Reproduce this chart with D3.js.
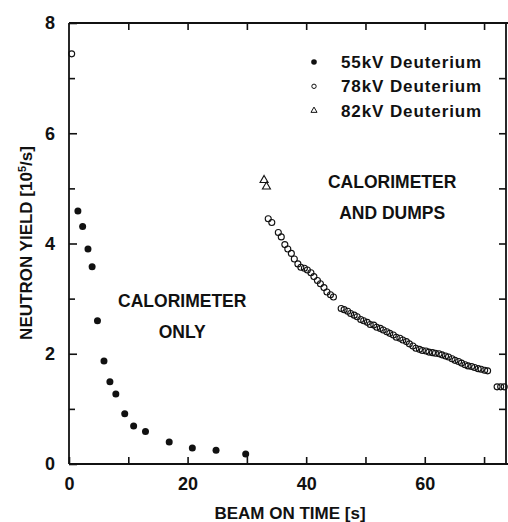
<!DOCTYPE html>
<html><head><meta charset="utf-8">
<script src="https://cdn.jsdelivr.net/npm/d3@7"></script>
<style>
body{margin:0;background:#fff;}
text{font-family:"Liberation Sans",Arial,sans-serif;font-weight:bold;fill:#111;}
</style></head>
<body><svg id="c" width="508" height="522"></svg>
<script>
// 55 kV deuterium (calorimeter only)
const d55x = [1.5, 2.3, 3.2, 3.9, 4.8, 5.9, 6.9, 7.9, 9.4, 10.9, 12.9, 16.9, 20.8, 24.8, 29.8];
const d55y = [4.59, 4.31, 3.90, 3.58, 2.60, 1.87, 1.49, 1.27, 0.91, 0.69, 0.59, 0.40, 0.29, 0.25, 0.18];
// 78 kV deuterium (calorimeter and dumps)
const d78x = [0.45, 33.6, 34.2, 35.3, 35.8, 36.4, 36.9, 37.5, 38.0, 38.6, 39.1, 39.7, 40.2, 40.8, 41.3, 41.9, 42.4, 43.0, 43.5, 44.1, 44.6,
  45.9, 46.4, 47.0, 47.5, 48.1, 48.6, 49.2, 49.7, 50.3, 50.8, 51.4, 51.9, 52.5, 53.0, 53.6, 54.1, 54.7, 55.2, 55.8, 56.3, 56.9, 57.4,
  58.0, 58.5, 59.1, 59.6, 60.2, 60.7, 61.3, 61.8, 62.4, 62.9, 63.5, 64.0, 64.6, 65.1, 65.7, 66.2, 66.8, 67.3, 67.9, 68.4, 69.0, 69.5,
  70.1, 70.6, 72.2, 72.8, 73.4];
const d78y = [7.44, 4.45, 4.38, 4.20, 4.12, 3.98, 3.90, 3.82, 3.72, 3.63, 3.57, 3.55, 3.52, 3.47, 3.40, 3.33, 3.27, 3.20, 3.12, 3.07, 3.03,
  2.82, 2.80, 2.77, 2.73, 2.70, 2.67, 2.62, 2.60, 2.57, 2.53, 2.52, 2.48, 2.46, 2.43, 2.40, 2.37, 2.34, 2.30, 2.28, 2.25, 2.22, 2.18,
  2.14, 2.10, 2.08, 2.06, 2.05, 2.03, 2.02, 2.01, 2.00, 1.98, 1.96, 1.94, 1.91, 1.88, 1.86, 1.83, 1.80, 1.78, 1.77, 1.75, 1.73, 1.72,
  1.70, 1.69, 1.40, 1.40, 1.40];
// 82 kV deuterium
const d82x = [32.9, 33.3];
const d82y = [5.15, 5.03];

const xTicks = [0, 10, 20, 30, 40, 50, 60, 70];
const xLabels = [0, 20, 40, 60];
const yTicks = [0, 1, 2, 3, 4, 5, 6, 7, 8];
const yLabels = [0, 2, 4, 6, 8];
const legendLabels = ["55kV Deuterium", "78kV Deuterium", "82kV Deuterium"];
const xTitle = "BEAM ON TIME [s]";
const notes = [["CALORIMETER", "ONLY"], ["CALORIMETER", "AND DUMPS"]];
const noteX = [19.1, 54.5];
const noteY = [2.85, 5.0];

const L = 69, R = 506, T = 23, B = 464;
const x = d3.scaleLinear().domain([0, 73.7]).range([L, R]);
const y = d3.scaleLinear().domain([0, 8]).range([B, T]);
const svg = d3.select("#c");

// frame
const frame = svg.append("g").attr("stroke", "#111").attr("stroke-width", 1.8).attr("fill", "none");
frame.append("line").attr("x1", L).attr("x2", R + 2).attr("y1", B).attr("y2", B);
frame.append("line").attr("x1", L).attr("x2", R + 2).attr("y1", T).attr("y2", T);
frame.append("line").attr("x1", L).attr("x2", L).attr("y1", T).attr("y2", B);
frame.append("line").attr("x1", R).attr("x2", R).attr("y1", T).attr("y2", B);

// axes via d3
const fmtX = d => xLabels.includes(d) ? d : "";
const fmtY = d => yLabels.includes(d) ? d : "";
const gx = svg.append("g").attr("transform", `translate(0,${B})`)
  .call(d3.axisBottom(x).tickValues(xTicks).tickSizeInner(-7).tickSizeOuter(0).tickPadding(13).tickFormat(fmtX));
const gxt = svg.append("g").attr("transform", `translate(0,${T})`)
  .call(d3.axisTop(x).tickValues(xTicks.filter(d => d > 0)).tickSizeInner(-7).tickSizeOuter(0).tickFormat(""));
const gy = svg.append("g").attr("transform", `translate(${L},0)`)
  .call(d3.axisLeft(y).tickValues(yTicks).tickSize(-8).tickSizeOuter(0).tickPadding(14).tickFormat(fmtY));
const gyr = svg.append("g").attr("transform", `translate(${R},0)`)
  .call(d3.axisRight(y).tickValues(yTicks.filter(d => d > 0 && d < 8)).tickSize(-7).tickSizeOuter(0).tickFormat(""));
[gx, gxt, gy, gyr].forEach(g => {
  g.select(".domain").remove();
  g.selectAll("line").attr("stroke", "#111").attr("stroke-width", 1.6);
  g.selectAll("text").style("font-size", "18px").style("font-family", "Liberation Sans, Arial, sans-serif").style("font-weight", "bold").attr("fill", "#111");
});
gy.selectAll(".tick").filter(d => !yLabels.includes(d)).select("line").attr("x2", 6);

// titles
svg.append("text").attr("x", 290).attr("y", 519).attr("text-anchor", "middle")
  .style("font-size", "17px").text(xTitle);
const yt = svg.append("text").attr("transform", "translate(32,243) rotate(-90)").attr("text-anchor", "middle")
  .style("font-size", "17px");
yt.append("tspan").text("NEUTRON YIELD [10");
yt.append("tspan").attr("dy", -6).style("font-size", "11px").text("5");
yt.append("tspan").attr("dy", 6).text("/s]");

// notes
notes.forEach((n, i) => {
  n.forEach((s, j) => {
    svg.append("text").attr("x", x(noteX[i])).attr("y", y(noteY[i]) + j * 31)
      .attr("text-anchor", "middle").style("font-size", "17.5px").text(s);
  });
});

// data
svg.append("g").selectAll("circle").data(d55x).join("circle")
  .attr("cx", d => x(d)).attr("cy", (d, i) => y(d55y[i])).attr("r", 3.5).attr("fill", "#111");
svg.append("g").selectAll("circle").data(d78x).join("circle")
  .attr("cx", d => x(d)).attr("cy", (d, i) => y(d78y[i])).attr("r", 3).attr("fill", "none")
  .attr("stroke", "#111").attr("stroke-width", 1.1);
const tri = d3.symbol().type(d3.symbolTriangle).size(28);
svg.append("g").selectAll("path").data(d82x).join("path")
  .attr("transform", (d, i) => `translate(${x(d)},${y(d82y[i])})`).attr("d", tri)
  .attr("fill", "none").attr("stroke", "#111").attr("stroke-width", 1.1);

// legend
const lg = svg.append("g");
legendLabels.forEach((s, i) => {
  const cy = 62 + i * 24.3;
  if (i === 0) lg.append("circle").attr("cx", 314).attr("cy", cy).attr("r", 2.8).attr("fill", "#111");
  if (i === 1) lg.append("circle").attr("cx", 314).attr("cy", cy).attr("r", 2.2).attr("fill", "none").attr("stroke", "#111").attr("stroke-width", 1);
  if (i === 2) lg.append("path").attr("transform", `translate(314,${cy})`).attr("d", d3.symbol().type(d3.symbolTriangle).size(16)).attr("fill", "none").attr("stroke", "#111").attr("stroke-width", 1);
  lg.append("text").attr("x", 341).attr("y", cy + 6).style("font-size", "17px").style("letter-spacing", "0.9px").text(s);
});
</script></body></html>
